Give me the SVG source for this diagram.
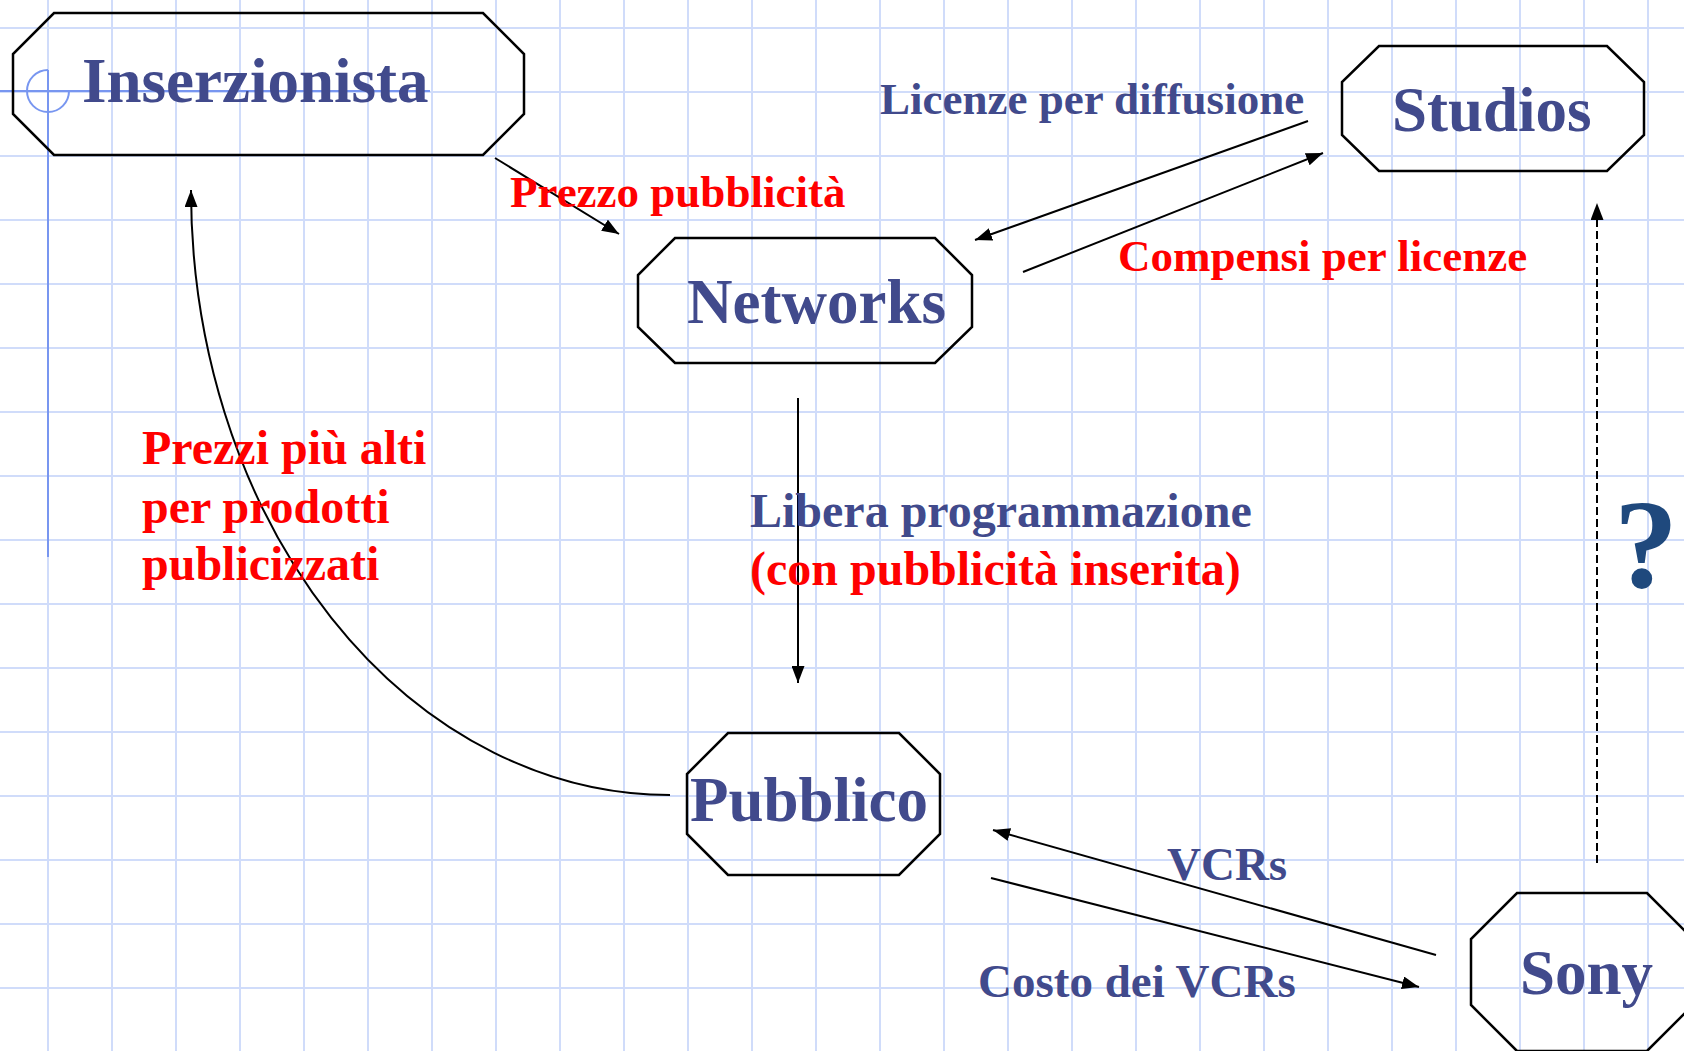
<svg xmlns="http://www.w3.org/2000/svg" width="1684" height="1051" viewBox="0 0 1684 1051">
<style>
.oct{fill:none;stroke:#000;stroke-width:2.5;stroke-linejoin:miter}
.node{font-family:"Liberation Serif","Times New Roman",serif;font-weight:bold;font-size:63px;fill:#414A8C}
.lbl{font-family:"Liberation Serif","Times New Roman",serif;font-weight:bold;font-size:45px}
.lbl2{font-family:"Liberation Serif","Times New Roman",serif;font-weight:bold;font-size:48px}
.blue{fill:#414A8C}
.red{fill:#FF0000}
.conn{fill:none;stroke:#000;stroke-width:2;marker-end:url(#ah)}
.mark{fill:none;stroke:#7896F0;stroke-width:2}
</style>
<defs>
<pattern id="grid" patternUnits="userSpaceOnUse" x="47" y="27" width="64" height="64">
<rect x="0" y="0" width="2" height="64" fill="#D0DCFA"/>
<rect x="0" y="0" width="64" height="2" fill="#D0DCFA"/>
</pattern>
<marker id="ah" markerUnits="userSpaceOnUse" markerWidth="17" markerHeight="13" refX="17" refY="6.5" orient="auto">
<path d="M0,0 L17,6.5 L0,13 z" fill="#000"/>
</marker>
</defs>
<rect width="1684" height="1051" fill="#FFFFFF"/>
<rect width="1684" height="1051" fill="url(#grid)"/>
<g id="template-mark">
<line class="mark" x1="0" y1="91" x2="430" y2="91"/>
<line class="mark" x1="48" y1="70" x2="48" y2="557"/>
<path class="mark" d="M48,70 A21,21 0 1 0 69,91"/>
</g>
<g id="connectors">
<line class="conn" x1="495" y1="158" x2="619" y2="234"/>
<line class="conn" x1="1308" y1="121" x2="975" y2="240"/>
<line class="conn" x1="1023" y1="272" x2="1323" y2="153"/>
<line class="conn" x1="798" y1="398" x2="798" y2="683"/>
<path class="conn" d="M670,795 A479,605 0 0 1 191,190"/>
<line class="conn" x1="1436" y1="955" x2="993" y2="830"/>
<line class="conn" x1="991" y1="878" x2="1419" y2="987"/>
<line class="conn" x1="1597" y1="863" x2="1597" y2="203" stroke-dasharray="8 4"/>
</g>
<g id="inserzionista">
<polygon class="oct" points="54,13 483,13 524,54 524,114 483,155 54,155 13,114 13,54"/>
<text class="node" x="82" y="102">Inserzionista</text>
</g>
<g id="networks">
<polygon class="oct" points="675,238 935,238 972,275 972,327 935,363 675,363 638,327 638,275"/>
<text class="node" x="687" y="323">Networks</text>
</g>
<g id="studios">
<polygon class="oct" points="1379,46 1607,46 1644,82 1644,135 1607,171 1379,171 1342,135 1342,82"/>
<text class="node" x="1392" y="131">Studios</text>
</g>
<g id="pubblico">
<polygon class="oct" points="728,733 899,733 940,774 940,834 899,875 728,875 687,834 687,774"/>
<text class="node" x="690" y="821">Pubblico</text>
</g>
<g id="sony">
<polygon class="oct" points="1517,893 1647,893 1693,939 1693,1005 1647,1051 1517,1051 1471,1005 1471,939"/>
<text class="node" x="1520" y="994">Sony</text>
</g>
<g id="labels">
<text class="lbl red" x="510" y="207">Prezzo pubblicità</text>
<text class="lbl blue" x="880" y="114">Licenze per diffusione</text>
<text class="lbl red" x="1118" y="271">Compensi per licenze</text>
<text class="lbl2 blue" x="750" y="527">Libera programmazione</text>
<text class="lbl2 red" x="750" y="585">(con pubblicità inserita)</text>
<text class="lbl2 red" x="142" y="464">Prezzi più alti</text>
<text class="lbl2 red" x="142" y="523">per prodotti</text>
<text class="lbl2 red" x="142" y="580">publicizzati</text>
<text class="lbl2 blue" x="1167" y="880" style="font-size:47px">VCRs</text>
<text class="lbl2 blue" x="978" y="997" style="font-size:47px">Costo dei VCRs</text>
<text x="1614" y="587" style="font-family:'Liberation Serif','Times New Roman',serif;font-weight:bold;font-size:128px;fill:#1F497D">?</text>
</g>
</svg>
